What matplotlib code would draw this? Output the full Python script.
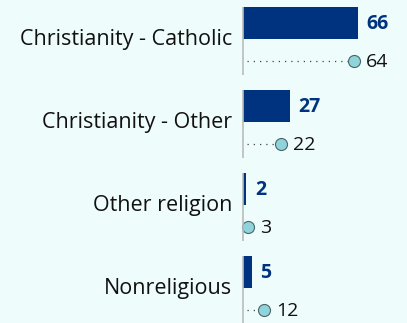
import matplotlib

matplotlib.use("Agg")
import matplotlib.pyplot as plt
import numpy as np

CATEGORIES = ["Christianity - Catholic", "Christianity - Other", "Other religion", "Nonreligious"]
BAR_VALUES = [66, 27, 2, 5]
DOT_VALUES = [64, 22, 3, 12]

BG = "#effcfc"
NAVY = "#00337f"
DOT_FILL = "#8fd3db"
DOT_EDGE = "#4a6468"
INK = "#111111"

plt.rcParams["font.family"] = ["Open Sans", "DejaVu Sans"]

fig = plt.figure(figsize=(4.07, 3.23), dpi=100)
fig.patch.set_facecolor(BG)
ax = fig.add_axes([0, 0, 1, 1])
ax.set_facecolor(BG)

y = np.arange(len(CATEGORIES))
off = 0.229
bh = 0.386

ax.barh(y - off, BAR_VALUES, height=bh, color=NAVY, zorder=3)
for yi, v in zip(y, DOT_VALUES):
    ax.plot([2.5, v], [yi + off, yi + off], linestyle=(0, (1, 4)), color="#444444",
            linewidth=0.9, zorder=2)
ax.scatter(DOT_VALUES, y + off, s=75, color=DOT_FILL, edgecolor=DOT_EDGE,
           linewidth=0.8, zorder=4)

ax.vlines(np.zeros(len(y)), y - 0.42, y + 0.40, color="#b8bcbc", linewidth=1.2, zorder=5)

for yi, v in zip(y, BAR_VALUES):
    ax.annotate(str(v), (v, yi - off), xytext=(6, -1), textcoords="offset points",
                ha="left", va="center", fontsize=14, fontweight="bold", color=NAVY)
for yi, v in zip(y, DOT_VALUES):
    ax.annotate(str(v), (v, yi + off), xytext=(8.5, -1), textcoords="offset points",
                ha="left", va="center", fontsize=14, color=INK)
for yi, c in zip(y, CATEGORIES):
    ax.annotate(c, (0, yi - 0.03), xytext=(-8, 0), textcoords="offset points",
                ha="right", va="center", fontsize=15.5, color=INK)

ax.set_xlim(-243 / 1.742, (407 - 243) / 1.742)
ax.set_ylim(3.386, -0.506)
ax.axis("off")

fig.savefig("out.png", dpi=100, facecolor=BG)
